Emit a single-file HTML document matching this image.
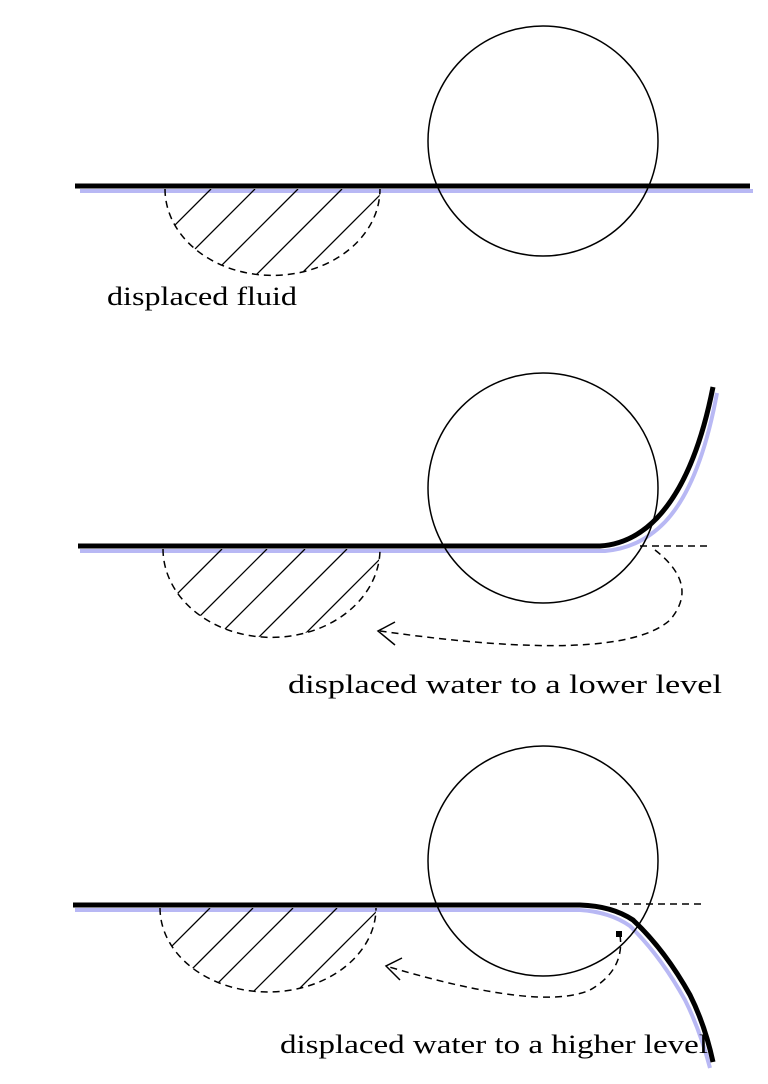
<!DOCTYPE html>
<html><head><meta charset="utf-8"><style>
html,body{margin:0;padding:0;background:#fff;width:768px;height:1084px;overflow:hidden}
svg text{font-family:"Liberation Serif",serif;font-size:26px;fill:#000}
</style></head><body>
<svg id="d" width="768" height="1084" viewBox="0 0 768 1084" xmlns="http://www.w3.org/2000/svg">
<defs>
<clipPath id="c1"><path d="M165 189 A107 86 0 0 0 380 189 Z"/></clipPath>
<clipPath id="c2"><path d="M163 549 A108 88 0 0 0 380 549 Z"/></clipPath>
<clipPath id="c3"><path d="M160 908 A108 84 0 0 0 376 908 Z"/></clipPath>
</defs>

<!-- Panel 1 -->
<g>
<line x1="80" y1="191" x2="753" y2="191" stroke="#b8b8f4" stroke-width="4"/>
<line x1="75" y1="186" x2="750" y2="186" stroke="#000" stroke-width="5"/>
<circle cx="543" cy="141" r="115" fill="none" stroke="#000" stroke-width="1.5"/>
<path d="M165 189 A107 86 0 0 0 380 189" fill="none" stroke="#000" stroke-width="1.5" stroke-dasharray="7 5"/>
<g clip-path="url(#c1)" stroke="#000" stroke-width="1.3">
<line x1="211" y1="189" x2="121" y2="279"/><line x1="255" y1="189" x2="165" y2="279"/><line x1="298" y1="189" x2="208" y2="279"/><line x1="342" y1="189" x2="252" y2="279"/><line x1="386" y1="189" x2="296" y2="279"/><line x1="430" y1="189" x2="340" y2="279"/>
</g>
<text x="107" y="305" textLength="190" lengthAdjust="spacingAndGlyphs">displaced fluid</text>
</g>

<!-- Panel 2 -->
<g>
<path d="M80 551 L605 551 Q640 548 665 522 Q700 485 717 393" fill="none" stroke="#b8b8f4" stroke-width="4"/>
<path d="M78 546 L600 546 Q632 544 657 518 Q695 478 713 387" fill="none" stroke="#000" stroke-width="5"/>
<circle cx="543" cy="488" r="115" fill="none" stroke="#000" stroke-width="1.5"/>
<path d="M163 549 A108 88 0 0 0 380 549" fill="none" stroke="#000" stroke-width="1.5" stroke-dasharray="7 5"/>
<g clip-path="url(#c2)" stroke="#000" stroke-width="1.3">
<line x1="222" y1="549" x2="132" y2="639"/><line x1="267" y1="549" x2="177" y2="639"/><line x1="305" y1="549" x2="215" y2="639"/><line x1="347" y1="549" x2="257" y2="639"/><line x1="390" y1="549" x2="300" y2="639"/><line x1="432" y1="549" x2="342" y2="639"/>
</g>
<line x1="640" y1="546" x2="707" y2="546" stroke="#000" stroke-width="1.5" stroke-dasharray="7 5"/>
<path d="M655 550 Q700 585 670 620 Q620 665 380 631" fill="none" stroke="#000" stroke-width="1.5" stroke-dasharray="7 5"/>
<path d="M395 622 L378 631 L395 645" fill="none" stroke="#000" stroke-width="1.5"/>
<text x="288" y="693" textLength="434" lengthAdjust="spacingAndGlyphs">displaced water to a lower level</text>
</g>

<!-- Panel 3 -->
<g>
<path d="M75 910 L580 910 Q610 912 630 926 Q660 955 685 1000 Q700 1030 710 1068" fill="none" stroke="#b8b8f4" stroke-width="4"/>
<path d="M73 905 L580 905 Q612 906 633 920 Q665 950 690 995 Q705 1025 713 1062" fill="none" stroke="#000" stroke-width="5"/>
<circle cx="543" cy="861" r="115" fill="none" stroke="#000" stroke-width="1.5"/>
<path d="M160 908 A108 84 0 0 0 376 908" fill="none" stroke="#000" stroke-width="1.5" stroke-dasharray="7 5"/>
<g clip-path="url(#c3)" stroke="#000" stroke-width="1.3">
<line x1="210" y1="908" x2="120" y2="998"/><line x1="253" y1="908" x2="163" y2="998"/><line x1="293" y1="908" x2="203" y2="998"/><line x1="337" y1="908" x2="247" y2="998"/><line x1="380" y1="908" x2="290" y2="998"/><line x1="423" y1="908" x2="333" y2="998"/>
</g>
<line x1="610" y1="904" x2="705" y2="904" stroke="#000" stroke-width="1.5" stroke-dasharray="7 5"/>
<path d="M620 935 Q625 970 590 990 Q540 1012 386 966" fill="none" stroke="#000" stroke-width="1.5" stroke-dasharray="7 5"/>
<rect x="616" y="931" width="6" height="6" fill="#000"/>
<path d="M402 958 L386 966 L400 980" fill="none" stroke="#000" stroke-width="1.5"/>
<text x="280" y="1053" textLength="428" lengthAdjust="spacingAndGlyphs">displaced water to a higher level</text>
</g>
</svg>
</body></html>
